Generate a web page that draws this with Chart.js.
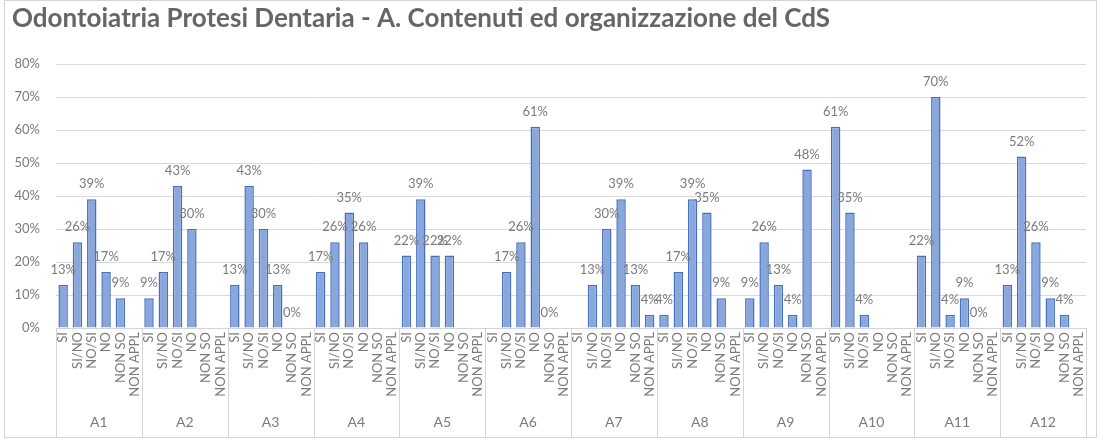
<!DOCTYPE html>
<html lang="it">
  <head>
    <meta charset="UTF-8" />
    <title>Odontoiatria Protesi Dentaria - A. Contenuti ed organizzazione del CdS</title>
    <style>
      body { margin: 0; background: #fff; }
    </style>
  </head>
  <body>
    <canvas id="myChart" width="1101" height="439"></canvas>
    <script src="https://cdn.jsdelivr.net/npm/chart.js@4.4.0/dist/chart.umd.min.js"></script>
    <script>
      // groups on the x axis, answers inside each group
      const groups = ["A1", "A2", "A3", "A4", "A5", "A6", "A7", "A8", "A9", "A10", "A11", "A12"];
      const answers = ["SI", "SI/NO", "NO/SI", "NO", "NON SO", "NON APPL"];

      // percentages per group (null = no bar, no label)
      const a1 = [13, 26, 39, 17, 9, null];
      const a2 = [9, 17, 43, 30, null, null];
      const a3 = [13, 43, 30, 13, 0, null];
      const a4 = [17, 26, 35, 26, null, null];
      const a5 = [22, 39, 22, 22, null, null];
      const a6 = [null, 17, 26, 61, 0, null];
      const a7 = [null, 13, 30, 39, 13, 4];
      const a8 = [4, 17, 39, 35, 9, null];
      const a9 = [9, 26, 13, 4, 48, null];
      const a10 = [61, 35, 4, null, null, null];
      const a11 = [22, 70, 4, 9, 0, null];
      const a12 = [13, 52, 26, 9, 4, null];

      const yTicks = [0, 10, 20, 30, 40, 50, 60, 70, 80];

      const values = [a1, a2, a3, a4, a5, a6, a7, a8, a9, a10, a11, a12].flat();
      const labels = groups.flatMap(() => answers);

      const fontName = "Lato, 'Open Sans', sans-serif";
      const grey = "#7b7b7b";

      // value labels above bars, group labels and separators under the axis
      const excelBits = {
        id: "excelBits",
        beforeDraw(chart) {
          const c = chart.ctx;
          c.save();
          c.strokeStyle = "#d4d4d4";
          c.lineWidth = 1;
          c.strokeRect(4.5, 0.5, 1092, 437);
          c.restore();
        },
        afterDatasetsDraw(chart) {
          const c = chart.ctx;
          const meta = chart.getDatasetMeta(0);
          c.save();
          c.font = "13px " + fontName;
          c.fillStyle = grey;
          c.textAlign = "center";
          c.textBaseline = "middle";
          meta.data.forEach((bar, i) => {
            const v = values[i];
            if (v === null) return;
            c.fillText(v + "%", bar.x, bar.y - 15);
          });
          c.restore();
        },
        afterDraw(chart) {
          const c = chart.ctx;
          const x = chart.scales.x;
          const slot = x.width / labels.length;
          const top = chart.chartArea.bottom;
          c.save();
          c.strokeStyle = "#d4d4d4";
          c.lineWidth = 1;
          for (let g = 0; g <= groups.length; g++) {
            const px = Math.round(x.left + g * answers.length * slot) + 0.5;
            c.beginPath();
            c.moveTo(px, top);
            c.lineTo(px, 437);
            c.stroke();
          }
          c.font = "14px " + fontName;
          c.fillStyle = grey;
          c.textAlign = "center";
          c.textBaseline = "middle";
          groups.forEach((g, i) => {
            const a = x.getPixelForValue(i * answers.length);
            const b = x.getPixelForValue(i * answers.length + answers.length - 1);
            c.fillText(g, (a + b) / 2, 422);
          });
          c.restore();
        },
      };

      const ctx = document.getElementById("myChart").getContext("2d");
      const myChart = new Chart(ctx, {
        type: "bar",
        data: {
          labels: labels,
          datasets: [
            {
              data: values,
              backgroundColor: "#8aa7dc",
              borderColor: "#4470c0",
              borderWidth: 1.5,
              barPercentage: 0.66,
              categoryPercentage: 1,
            },
          ],
        },
        options: {
          responsive: false,
          animation: false,
          layout: { padding: { left: 12, right: 15, top: 0, bottom: 0 } },
          plugins: {
            legend: { display: false },
            tooltip: { enabled: false },
            title: {
              display: true,
              text: "Odontoiatria Protesi Dentaria - A. Contenuti ed organizzazione del CdS",
              align: "start",
              color: "#666666",
              font: { family: fontName, size: 26, weight: "bold", lineHeight: 1.2 },
              padding: { top: 3, bottom: 29.8 },
            },
          },
          scales: {
            x: {
              grid: { display: false, drawTicks: false },
              border: { display: true, color: "#d4d4d4" },
              ticks: {
                autoSkip: false,
                minRotation: 90,
                maxRotation: 90,
                padding: 4,
                color: grey,
                font: { family: fontName, size: 13 },
              },
              afterFit(scale) {
                scale.height = 111;
              },
            },
            y: {
              min: 0,
              max: 80,
              afterBuildTicks(scale) {
                scale.ticks = yTicks.map((v) => ({ value: v }));
              },
              grid: { color: "#d9d9d9", drawTicks: false },
              border: { display: false },
              ticks: {
                padding: 16,
                color: grey,
                font: { family: fontName, size: 13 },
                callback: (v) => v + "%",
              },
              afterFit(scale) {
                scale.width = 44;
              },
            },
          },
        },
        plugins: [excelBits],
      });
    </script>
  </body>
</html>
